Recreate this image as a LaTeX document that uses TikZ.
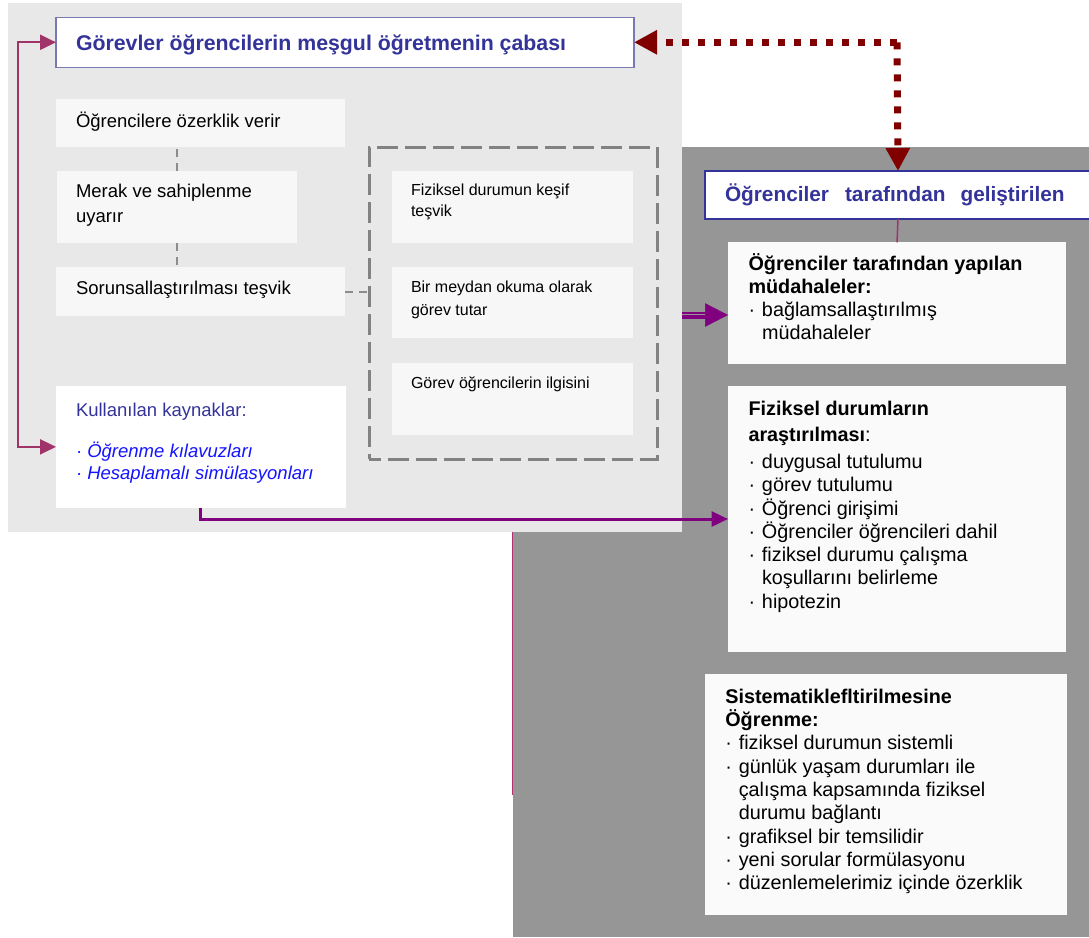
\documentclass[tikz,border=0pt]{standalone}
\usepackage{fontspec}
\setmainfont{Liberation Sans}
\usetikzlibrary{arrows.meta}
\definecolor{panelL}{HTML}{E8E8E8}
\definecolor{panelD}{HTML}{969696}
\definecolor{boxF}{HTML}{F7F7F7}
\definecolor{navy}{HTML}{333399}
\definecolor{lav}{HTML}{7878B4}
\definecolor{pinkc}{HTML}{A0346A}
\definecolor{pinkl}{HTML}{B4306E}
\definecolor{purpc}{HTML}{800080}
\definecolor{dred}{HTML}{800000}
\definecolor{dgray}{HTML}{828282}
\definecolor{cgray}{HTML}{8C8C8C}
\definecolor{ibl}{HTML}{1414FF}
\newcommand\mystrut{\rule{0pt}{20pt}}
\newcommand\mybul{\makebox[13.5pt][l]{·}}
\newcommand\myind{\hspace*{13.5pt}}
\begin{document}
\begin{tikzpicture}[x=1pt,y=-1pt,
  box/.style={anchor=north west, inner sep=0pt, outer sep=0pt, fill=boxF},
  txt/.style={anchor=north west, inner sep=0pt, outer sep=0pt, align=left},
  line/.style={anchor=base west, inner sep=0pt, outer sep=0pt},
  fleft/.style={font=\fontsize{18.5}{25.4}\selectfont},
  finner/.style={font=\fontsize{16}{22}\selectfont},
  fright/.style={font=\fontsize{19.8}{23.3}\selectfont},
  pinkarrow/.style={draw=pinkc, line width=2.2pt},
  ptip/.tip={Triangle[length=16pt,width=15pt]},
  cdash/.style={draw=cgray, line width=2pt, dash pattern=on 8pt off 6pt},
  dredline/.style={draw=dred, line width=7pt, dash pattern=on 7pt off 9pt},
  dtip/.tip={Triangle[length=23pt,width=23pt]}
]
\useasboundingbox (0,0) rectangle (1089,937);
% panels
\fill[panelD] (513.3,147) rectangle (1089,937);
\fill[panelL] (7.5,3) rectangle (681.5,531.7);
\coordinate (pl1) at (512.5,531.7);
\coordinate (pl2) at (512.5,795);
\draw[pinkl, line width=1.6pt] (pl1) -- (pl2);

% title box
\node[anchor=north west, inner sep=0pt, outer sep=0pt, draw=lav, line width=1.5pt, fill=white,
  minimum width=578pt, minimum height=50pt] (title) at (56,17.3) {};
\node[line, font=\fontsize{21.3}{25}\selectfont\bfseries, text=navy] (titletxt) at (76,50)
  {Görevler öğrencilerin meşgul öğretmenin çabası};

% left column boxes
\node[box, minimum width=289pt, minimum height=48pt] (b1) at (56,99) {};
\node[box, minimum width=240pt, minimum height=72pt] (b2) at (57,171) {};
\node[box, minimum width=289pt, minimum height=49pt] (b3) at (56,267) {};
\node[box, fill=white, minimum width=289.5pt, minimum height=121.7pt] (kul) at (56,386) {};

\node[line, fleft] (b1t) at (76,127.5) {Öğrencilere özerklik verir};
\node[txt, fleft] (b2t) at (76,177.3) {\mystrut Merak ve sahiplenme\\uyarır};
\node[line, fleft] (b3t) at (76,294) {Sorunsallaştırılması teşvik};
\node[txt, font=\fontsize{18.5}{22}\selectfont] (kult) at (76,396)
  {\mystrut\textcolor{navy}{Kullanılan kaynaklar:}\\[19.3pt]
   \textcolor{ibl}{\itshape · Öğrenme kılavuzları}\\
   \textcolor{ibl}{\itshape · Hesaplamalı simülasyonları}};

% dashed container
\node[anchor=north west, inner sep=0pt, outer sep=0pt, draw=dgray, line width=3pt,
  dash pattern=on 21pt off 7pt, dash phase=9pt, minimum width=288pt, minimum height=312pt] (cont) at (369,147) {};
\node[box, minimum width=241pt, minimum height=71.7pt] (ia) at (392,171) {};
\node[box, minimum width=241pt, minimum height=70.7pt] (ib) at (392,267) {};
\node[box, minimum width=241pt, minimum height=72pt] (ic) at (392,363) {};
\node[txt, font=\fontsize{16}{21.7}\selectfont] (iat) at (411,175) {\mystrut Fiziksel durumun keşif\\teşvik};
\node[txt, font=\fontsize{16}{22.3}\selectfont] (ibt) at (411,272.7) {\mystrut Bir meydan okuma olarak\\görev tutar};
\node[line, finner] (ict) at (411,388.3) {Görev öğrencilerin ilgisini};

% left dashed connectors
\draw[cdash] (b2.north) -- (b2.north |- b1.south);
\draw[cdash] (b2.south) -- (b2.south |- b3.north);
\draw[cdash] (b3.east) -- (b3.east -| cont.west);

% right side
\node[anchor=north west, inner sep=0pt, outer sep=0pt, draw=navy, line width=2pt, fill=white,
  minimum width=386pt, minimum height=48pt] (ogr) at (705,171) {};
\node[line, font=\fontsize{20.8}{24}\selectfont\bfseries, text=navy] (ogrt) at (725,201.7)
  {Öğrenciler\hspace{16pt}tarafından\hspace{15pt}geliştirilen};

\node[box, fill=boxF!60!white, minimum width=338pt, minimum height=121.7pt] (r1) at (728,242.3) {};
\node[box, fill=boxF!60!white, minimum width=338pt, minimum height=266pt] (r2) at (728,386) {};
\node[box, fill=boxF!60!white, minimum width=362pt, minimum height=241pt] (r3) at (704.5,674) {};

\node[txt, fright] (r1t) at (748.5,250)
  {\mystrut\textbf{Öğrenciler tarafından yapılan}\\
   \textbf{müdahaleler:}\\
   \mybul bağlamsallaştırılmış\\
   \myind müdahaleler};
\node[txt, fright] (r2t) at (748.5,395)
  {\mystrut\textbf{Fiziksel durumların}\\[3.4pt]
   \textbf{araştırılması}:\\[3.4pt]
   \mybul duygusal tutulumu\\
   \mybul görev tutulumu\\
   \mybul Öğrenci girişimi\\
   \mybul Öğrenciler öğrencileri dahil\\
   \mybul fiziksel durumu çalışma\\
   \myind koşullarını belirleme\\
   \mybul hipotezin};
\node[txt, fright] (r3t) at (725.3,683.3)
  {\mystrut\textbf{Sistematiklefltirilmesine}\\
   \textbf{Öğrenme:}\\
   \mybul fiziksel durumun sistemli\\
   \mybul günlük yaşam durumları ile\\
   \myind çalışma kapsamında fiziksel\\
   \myind durumu bağlantı\\
   \mybul grafiksel bir temsilidir\\
   \mybul yeni sorular formülasyonu\\
   \mybul düzenlemelerimiz içinde özerklik};

% connectors
\draw[pinkarrow, ptip-ptip] (title.west) -- ++(-38,0) |- (kul.west);
\draw[draw=purpc, line width=3pt, -{Triangle[length=16.5pt,width=15pt]}] (kul.south) |- (r2.west);
\draw[draw=pinkc, line width=1.5pt] (ogr.south) -- (r1.north);

\coordinate (ds) at (681.5,315);
\draw[purpc, line width=7pt, shorten >=22pt] (ds) -- (ds -| r1.west);
\draw[panelD, line width=2pt, shorten >=22pt] (ds) -- (ds -| r1.west);
\draw[purpc, line width=0.5pt, -{Triangle[length=23pt,width=23.5pt]}] (ds) -- (ds -| r1.west);

\coordinate (corner) at (897,42.3);
\draw[dredline, -dtip] (corner) -- (title.east);
\draw[dredline, -dtip] (corner) -- (ogr.north);
\end{tikzpicture}
\end{document}
